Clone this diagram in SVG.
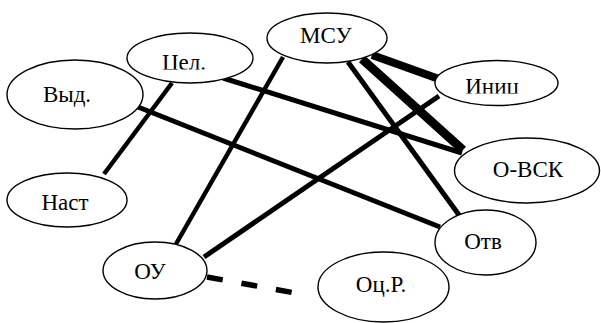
<svg xmlns="http://www.w3.org/2000/svg" width="601" height="323" viewBox="0 0 601 323">
<style>
.n ellipse{fill:#fff;stroke:#000;stroke-width:1.4}
.n text{font-family:'Liberation Serif','Times New Roman',serif;font-size:23px;fill:#000;text-anchor:middle}
.c line{stroke:#000;stroke-linecap:butt}
</style>
<defs>
<clipPath id="cpCel"><rect x="120" y="30" width="140" height="39.5"/></clipPath>
<clipPath id="cpInic"><rect x="430" y="55" width="135" height="38.5"/></clipPath>
</defs>
<rect width="601" height="323" fill="#fff"/>
<g id="connectors" class="c">
<line x1="172" y1="83" x2="104" y2="174" stroke-width="4.5"/>
<line x1="138" y1="107" x2="440" y2="227" stroke-width="5"/>
<line x1="223" y1="78" x2="462" y2="153" stroke-width="5"/>
<line x1="283" y1="57" x2="176" y2="244" stroke-width="4.5"/>
<line x1="372" y1="55" x2="439" y2="79" stroke-width="8"/>
<line x1="362" y1="59" x2="463" y2="150" stroke-width="9"/>
<line x1="348" y1="62" x2="459" y2="215" stroke-width="5"/>
<line x1="439" y1="96" x2="204" y2="257" stroke-width="5"/>
<line x1="207" y1="277" x2="306" y2="295" stroke-width="5.5" stroke-dasharray="16 19"/>
</g>
<g id="n-msu" class="n"><ellipse cx="327" cy="38" rx="60" ry="25"/><text x="326" y="43">МСУ</text></g>
<g id="n-cel" class="n"><ellipse cx="190" cy="58" rx="63" ry="25"/><text x="184" y="70" clip-path="url(#cpCel)">Цел.</text></g>
<g id="n-vyd" class="n"><ellipse cx="75" cy="94.5" rx="68" ry="34.5"/><text x="67" y="102">Выд.</text></g>
<g id="n-inic" class="n"><ellipse cx="496.5" cy="83" rx="61.5" ry="22.5"/><text x="492" y="94" clip-path="url(#cpInic)">Иниц</text></g>
<g id="n-ovsk" class="n"><ellipse cx="527" cy="170.5" rx="72.5" ry="32.5"/><text x="528" y="177">О-ВСК</text></g>
<g id="n-nast" class="n"><ellipse cx="67" cy="200" rx="60" ry="27"/><text x="65" y="210">Наст</text></g>
<g id="n-otv" class="n"><ellipse cx="485.5" cy="242.5" rx="50.5" ry="32.5"/><text x="483" y="249">Отв</text></g>
<g id="n-ou" class="n"><ellipse cx="155" cy="270.5" rx="52" ry="28.5"/><text x="150" y="279">ОУ</text></g>
<g id="n-ocr" class="n"><ellipse cx="383.5" cy="287" rx="65.5" ry="35"/><text x="381" y="292">Оц.Р.</text></g>
</svg>
